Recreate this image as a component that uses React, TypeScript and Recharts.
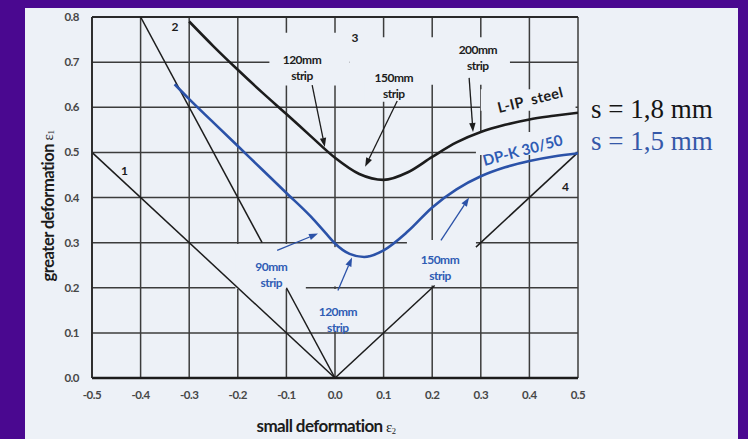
import {
  ComposedChart,
  Line,
  XAxis,
  YAxis,
  CartesianGrid,
  ReferenceArea,
  ReferenceLine,
  ReferenceDot,
} from "recharts";

// axis ticks
const xTicks = [-0.5, -0.4, -0.3, -0.2, -0.1, 0, 0.1, 0.2, 0.3, 0.4, 0.5];
const yTicks = [0, 0.1, 0.2, 0.3, 0.4, 0.5, 0.6, 0.7, 0.8];

// forming limit curve, L-IP steel, s = 1,8 mm
const steelX = [-0.3, -0.25, -0.2, -0.15, -0.1, -0.05, 0, 0.05, 0.1, 0.15, 0.2, 0.25, 0.3, 0.35, 0.4, 0.45, 0.5];
const steelY = [0.79, 0.735, 0.683, 0.633, 0.585, 0.536, 0.488, 0.452, 0.439, 0.456, 0.49, 0.522, 0.545, 0.561, 0.573, 0.581, 0.588];

// forming limit curve, DP-K 30/50, s = 1,5 mm
const dpkX = [-0.33, -0.3, -0.25, -0.2, -0.15, -0.1, -0.05, -0.02, 0, 0.03, 0.06, 0.1, 0.15, 0.2, 0.25, 0.3, 0.35, 0.4, 0.45, 0.5];
const dpkY = [0.651, 0.618, 0.566, 0.514, 0.462, 0.41, 0.358, 0.322, 0.298, 0.275, 0.268, 0.283, 0.325, 0.378, 0.418, 0.447, 0.467, 0.481, 0.491, 0.498];

// strain path guide lines 1, 2, 4 (split where notes sit)
const guide1 = [{ x: -0.5, y: 0.5 }, { x: 0, y: 0 }];
const guide2a = [{ x: -0.4, y: 0.8 }, { x: -0.15, y: 0.3 }];
const guide2b = [{ x: -0.1, y: 0.2 }, { x: 0, y: 0 }];
const guide4a = [{ x: 0, y: 0 }, { x: 0.205, y: 0.205 }];
const guide4b = [{ x: 0.29, y: 0.29 }, { x: 0.5, y: 0.5 }];

const guideNumbers = [
  { n: "1", x: -0.433, y: 0.459 },
  { n: "2", x: -0.329, y: 0.777 },
  { n: "3", x: 0.041, y: 0.753 },
  { n: "4", x: 0.474, y: 0.423 },
];

// strip width notes
const steelNotes = [
  { text: ["120mm", "strip"], x: -0.068, y: 0.704 },
  { text: ["150mm", "strip"], x: 0.121, y: 0.664 },
  { text: ["200mm", "strip"], x: 0.294, y: 0.726 },
];
const dpkNotes = [
  { text: ["90mm", "strip"], x: -0.131, y: 0.246 },
  { text: ["120mm", "strip"], x: 0.006, y: 0.147 },
  { text: ["150mm", "strip"], x: 0.216, y: 0.262 },
];

const steelArrows = [
  { x1: -0.047, y1: 0.649, x2: -0.021, y2: 0.512 },
  { x1: 0.128, y1: 0.614, x2: 0.062, y2: 0.468 },
  { x1: 0.276, y1: 0.665, x2: 0.284, y2: 0.545 },
];
const dpkArrows = [
  { x1: -0.119, y1: 0.283, x2: -0.035, y2: 0.32 },
  { x1: 0.006, y1: 0.194, x2: 0.035, y2: 0.267 },
  { x1: 0.218, y1: 0.305, x2: 0.276, y2: 0.4 },
];

// blank patches behind the notes, grid is interrupted there
const gaps = [
  { x1: -0.135, x2: 0.03, y1: 0.648, y2: 0.765 },
  { x1: 0.03, x2: 0.36, y1: 0.65, y2: 0.755 },
  { x1: 0.06, x2: 0.17, y1: 0.612, y2: 0.66 },
  { x1: -0.205, x2: -0.06, y1: 0.197, y2: 0.297 },
  { x1: -0.055, x2: 0.075, y1: 0.103, y2: 0.197 },
  { x1: -0.012, x2: 0.012, y1: 0.203, y2: 0.29 },
  { x1: 0.148, x2: 0.29, y1: 0.205, y2: 0.306 },
  { x1: 0.3, x2: 0.495, y1: 0.592, y2: 0.64 },
  { x1: 0.29, x2: 0.495, y1: 0.494, y2: 0.545 },
];

const steel = steelX.map((x, i) => ({ x, y: steelY[i] }));
const dpk = dpkX.map((x, i) => ({ x, y: dpkY[i] }));

const PANEL = "#edf1f7";
const INK = "#1c1c1c";
const BLUE = "#2b52a8";
const BLUE_TEXT = "#2f5cb4";
const FONT = "Lato, 'DejaVu Sans', sans-serif";
const SERIF = "'Liberation Serif', serif";

const XTick = ({ x, y, payload }: any) => (
  <text x={x} y={y + 21} textAnchor="middle" fontFamily={FONT} fontWeight={700} fontSize={11.5} fill="#474747" letterSpacing={-0.5}>
    {Number(payload.value).toFixed(1)}
  </text>
);

const YTick = ({ x, y, payload }: any) => (
  <text x={x - 13} y={y + 4} textAnchor="end" fontFamily={FONT} fontWeight={700} fontSize={11.5} fill="#474747" letterSpacing={-0.5}>
    {Number(payload.value).toFixed(1)}
  </text>
);

const arrowShape = (color: string) => (p: any) => {
  const { x1, y1, x2, y2 } = p;
  const a = Math.atan2(y2 - y1, x2 - x1);
  const L = 9;
  const W = 3.2;
  const bx = x2 - L * Math.cos(a);
  const by = y2 - L * Math.sin(a);
  const pts = `${x2},${y2} ${bx + W * Math.sin(a)},${by - W * Math.cos(a)} ${bx - W * Math.sin(a)},${by + W * Math.cos(a)}`;
  return (
    <g>
      <line x1={x1} y1={y1} x2={bx} y2={by} stroke={color} strokeWidth={1.3} />
      <polygon points={pts} fill={color} />
    </g>
  );
};

const noteShape = (lines: string[], color: string) => (p: any) => (
  <text x={p.cx} y={p.cy} textAnchor="middle" fontFamily={FONT} fontWeight={700} fontSize={12} fill={color} letterSpacing={-0.5}>
    {lines.map((l, i) => (
      <tspan key={i} x={p.cx} dy={i === 0 ? 4 : 16}>
        {l}
      </tspan>
    ))}
  </text>
);

const plainShape = (label: string, opts: any) => (p: any) => (
  <text
    x={p.cx + (opts.dx || 0)}
    y={p.cy + (opts.dy || 0)}
    textAnchor={opts.anchor || "middle"}
    fontFamily={opts.family || FONT}
    fontWeight={opts.weight ?? 700}
    fontSize={opts.size || 11}
    fill={opts.color || INK}
    transform={opts.angle ? `rotate(${opts.angle} ${p.cx} ${p.cy})` : undefined}
    letterSpacing={opts.letterSpacing}
    wordSpacing={opts.wordSpacing}
  >
    {label}
  </text>
);

const YLabel = () => (
  <text x={48} y={206} transform="rotate(-90 48 206)" textAnchor="middle" dominantBaseline="central" fontFamily={FONT} fontWeight={700} fontSize={16.5} fill={INK} letterSpacing={-0.5}>
    greater deformation{"  "}
    <tspan fontFamily={SERIF} fontWeight={400} fontSize={15}>ε</tspan>
    <tspan fontFamily={SERIF} fontWeight={400} fontSize={9} dy={3}>1</tspan>
  </text>
);

const XLabel = () => (
  <text x={326} y={432} textAnchor="middle" fontFamily={FONT} fontWeight={700} fontSize={17} fill={INK} letterSpacing={-0.6}>
    small deformation{"  "}
    <tspan fontFamily={SERIF} fontWeight={400} fontSize={15}>ε</tspan>
    <tspan fontFamily={SERIF} fontWeight={400} fontSize={8.5} dy={2}>2</tspan>
  </text>
);

export default function App() {
  const last = steel[steel.length - 1];
  const lastDpk = dpk[dpk.length - 1];
  return (
    <div style={{ position: "absolute", left: 0, top: 0, width: 748, height: 439, background: "#4a0890", overflow: "hidden" }}>
      <div style={{ position: "absolute", left: 25, top: 8, width: 713, height: 431, background: PANEL }} />
      <div style={{ position: "absolute", left: 0, top: 0 }}>
        <ComposedChart width={748} height={439} margin={{ top: 17, right: 170, bottom: 31, left: 30 }}>
          <CartesianGrid stroke="#3c3c3c" strokeWidth={1.5} />
          <XAxis
            type="number"
            dataKey="x"
            domain={[-0.5, 0.5]}
            ticks={xTicks}
            allowDataOverflow
            height={30}
            tickSize={0}
            tickMargin={0}
            tickLine={false}
            axisLine={{ stroke: INK, strokeWidth: 2.4 }}
            tick={<XTick />}
            label={{ content: <XLabel /> }}
          />
          <YAxis
            type="number"
            dataKey="y"
            domain={[0, 0.8]}
            ticks={yTicks}
            allowDataOverflow
            width={62}
            tickSize={0}
            tickMargin={0}
            tickLine={false}
            axisLine={{ stroke: "#2a2a2a", strokeWidth: 1.8 }}
            tick={<YTick />}
            label={{ content: <YLabel /> }}
          />
          <ReferenceLine y={0.8} stroke="#2a2a2a" strokeWidth={2} />

          {gaps.map((g, i) => (
            <ReferenceArea key={`gap${i}`} x1={g.x1} x2={g.x2} y1={g.y1} y2={g.y2} fill={PANEL} fillOpacity={1} stroke="none" ifOverflow="visible" />
          ))}

          <Line data={guide1} dataKey="y" type="linear" stroke={INK} strokeWidth={1.5} dot={false} isAnimationActive={false} />
          <Line data={guide2a} dataKey="y" type="linear" stroke={INK} strokeWidth={1.5} dot={false} isAnimationActive={false} />
          <Line data={guide2b} dataKey="y" type="linear" stroke={INK} strokeWidth={1.5} dot={false} isAnimationActive={false} />
          <Line data={guide4a} dataKey="y" type="linear" stroke={INK} strokeWidth={1.5} dot={false} isAnimationActive={false} />
          <Line data={guide4b} dataKey="y" type="linear" stroke={INK} strokeWidth={1.5} dot={false} isAnimationActive={false} />

          <Line data={steel} dataKey="y" type="monotone" stroke={INK} strokeWidth={2.6} dot={false} isAnimationActive={false} />
          <Line data={dpk} dataKey="y" type="monotone" stroke={BLUE} strokeWidth={2.6} dot={false} isAnimationActive={false} />

          {steelArrows.map((a, i) => (
            <ReferenceLine key={`sa${i}`} segment={[{ x: a.x1, y: a.y1 }, { x: a.x2, y: a.y2 }]} ifOverflow="visible" shape={arrowShape(INK)} />
          ))}
          {dpkArrows.map((a, i) => (
            <ReferenceLine key={`da${i}`} segment={[{ x: a.x1, y: a.y1 }, { x: a.x2, y: a.y2 }]} ifOverflow="visible" shape={arrowShape(BLUE)} />
          ))}

          {steelNotes.map((n, i) => (
            <ReferenceDot key={`sn${i}`} x={n.x} y={n.y} r={0} ifOverflow="visible" shape={noteShape(n.text, INK)} />
          ))}
          {dpkNotes.map((n, i) => (
            <ReferenceDot key={`dn${i}`} x={n.x} y={n.y} r={0} ifOverflow="visible" shape={noteShape(n.text, BLUE_TEXT)} />
          ))}
          {guideNumbers.map((g) => (
            <ReferenceDot key={`g${g.n}`} x={g.x} y={g.y} r={0} ifOverflow="visible" shape={plainShape(g.n, { dy: 4, size: 12 })} />
          ))}

          <ReferenceDot x={0.402} y={0.616} r={0} ifOverflow="visible" shape={plainShape("L-IP steel", { dy: 5, size: 14.5, angle: -14, letterSpacing: 0.4, wordSpacing: 4 })} />
          <ReferenceDot x={0.386} y={0.506} r={0} ifOverflow="visible" shape={plainShape("DP-K 30/50", { dy: 6, size: 15, angle: -15, color: BLUE_TEXT })} />

          <ReferenceDot x={last.x} y={last.y} r={0} ifOverflow="visible" shape={plainShape("s = 1,8 mm", { dx: 13, dy: 5, anchor: "start", family: SERIF, weight: 400, size: 27, color: "#151515" })} />
          <ReferenceDot x={lastDpk.x} y={lastDpk.y} r={0} ifOverflow="visible" shape={plainShape("s = 1,5 mm", { dx: 13, dy: -3, anchor: "start", family: SERIF, weight: 400, size: 27, color: "#3558a8" })} />
        </ComposedChart>
      </div>
    </div>
  );
}
